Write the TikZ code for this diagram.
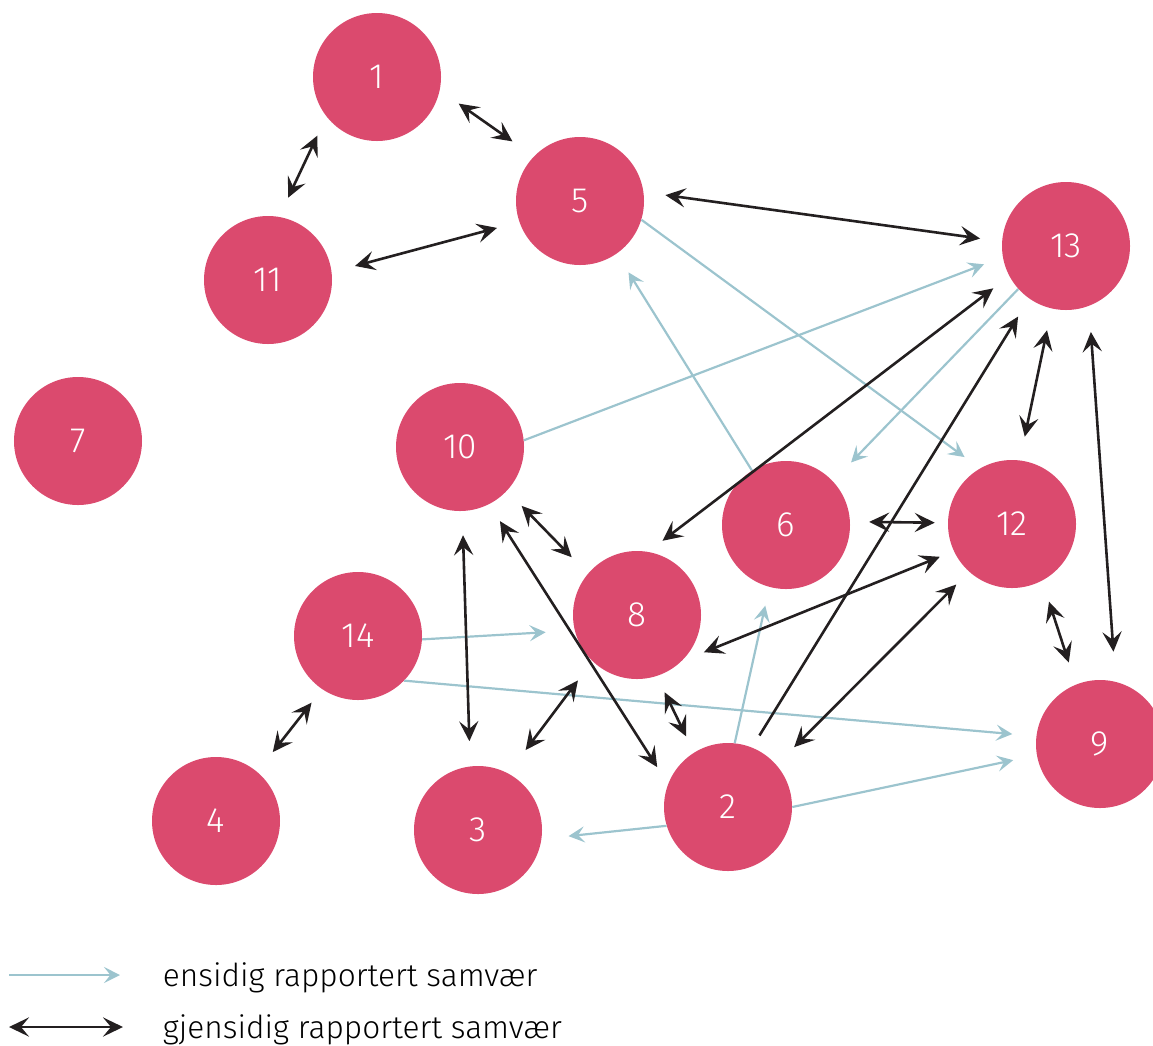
\documentclass[tikz,border=0pt]{standalone}
\usepackage{fontspec}
\setmainfont{Fira Sans Light}
\usepackage{tikz}
\usetikzlibrary{arrows.meta}

\definecolor{dotpink}{HTML}{DB4A6E}
\definecolor{onewayblue}{HTML}{9CC4CE}
\definecolor{twowayblack}{HTML}{231F20}

\begin{document}
\begin{tikzpicture}[x=0.25mm,y=-0.25mm,
    >={Stealth[length=5mm,width=4.8mm,inset=2mm]},
    person/.style={circle,fill=dotpink,minimum size=32mm,inner sep=0pt,
      text=white,font=\fontsize{25}{25}\selectfont},
    oneway/.style={color=onewayblue,line width=0.55mm,
      -{Stealth[length=4mm,width=4mm,inset=1.6mm]}},
    blackline/.style={color=twowayblack,line width=0.65mm},
    twoway/.style={blackline,<->},
    gaps/.style 2 args={shorten <=#1*0.25mm,shorten >=#2*0.25mm}]
  \useasboundingbox (0,0) rectangle (1153,1045);

  % the fourteen persons
  \node[person] (n1)  at (377,77)   {1};
  \node[person] (n5)  at (580,201)  {5};
  \node[person] (n11) at (268,280)  {11};
  \node[person] (n13) at (1066,246) {13};
  \node[person] (n7)  at (78,441)   {7};
  \node[person] (n10) at (460,447)  {10};
  \node[person] (n6)  at (786,525)  {6};
  \node[person] (n12) at (1012,524) {12};
  \node[person] (n8)  at (637,615)  {8};
  \node[person] (n14) at (358,636)  {14};
  \node[person] (n9)  at (1100,744) {9};
  \node[person] (n4)  at (216,821)  {4};
  \node[person] (n3)  at (478,830)  {3};
  \node[person] (n2)  at (728,807)  {2};

  % one-sided
  \path[oneway]
        (n5.-17)   edge [gaps={0}{19}] (n12.120)
        (n6.122)   edge [gaps={0}{22}] (n5.-55)
        (n10.6)    edge [gaps={0}{20}] (n13.-170)
        (n13.-138) edge [gaps={0}{26}] (n6.43)
        (n14.-3)   edge [gaps={0}{29}] (n8.-166)
        (n14.-44)  edge [gaps={0}{24}] (n9.173)
        (n2.0)     edge [gaps={0}{24}] (n9.-170)
        (n2.-163)  edge [gaps={0}{27}] (n3.-8)
        (n2.84)    edge [gaps={0}{19}] (n6.-105);

  % mutual
  \path[twoway]
        (n1.-142)  edge [gaps={21}{21}] (n11.80)
        (n1.-12)   edge [gaps={23}{26}] (n5.136)
        (n11.7)    edge [gaps={24}{23}] (n5.-161)
        (n5.8)     edge [gaps={22}{22}] (n13.176)
        (n13.-152) edge [gaps={20}{18}] (n8.80)
        (n13.-103) edge [gaps={22}{24}] (n12.83)
        (n13.-69)  edge [gaps={26}{30}] (n9.76)
        (n12.-62)  edge [gaps={22}{23}] (n9.112)
        (n6.3)     edge [gaps={19}{13}] (n12.179)
        (n12.-155) edge [gaps={15}{24}] (n8.-46)
        (n12.-132) edge [gaps={18}{25}] (n2.41)
        (n10.-43)  edge [gaps={21}{23}] (n8.140)
        (n10.-63)  edge [gaps={20}{20}] (n2.159)
        (n10.-88)  edge [gaps={24}{25}] (n3.97)
        (n8.-134)  edge [gaps={24}{29}] (n3.62)
        (n8.-72)   edge [gaps={18}{18}] (n2.122)
        (n14.-124) edge [gaps={17}{25}] (n4.50);
  \draw[blackline,->,gaps={14}{21}] (n2.68) -- (n13.-125);

  % legend
  \coordinate (k1a) at (9,975);
  \coordinate (k1b) at (120,975);
  \coordinate (k2a) at (9,1027);
  \coordinate (k2b) at (123,1027);
  \draw[oneway] (k1a) -- (k1b);
  \draw[twoway] (k2a) -- (k2b);
  \node[anchor=base west,font=\fontsize{22.5}{22.5}\selectfont] (k1) at (158,986) {ensidig rapportert samvær};
  \node[anchor=base west,font=\fontsize{22.5}{22.5}\selectfont] (k2) at (158,1038) {gjensidig rapportert samvær};
\end{tikzpicture}
\end{document}
